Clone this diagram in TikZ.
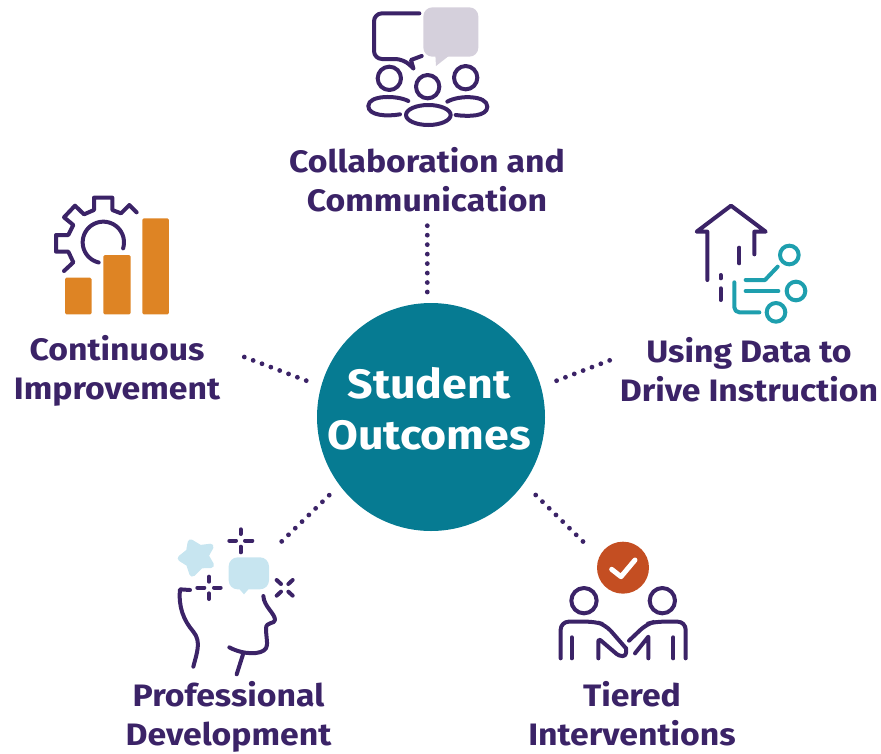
\documentclass[tikz,border=0pt]{standalone}
\usepackage{fontspec}
\setmainfont{Fira Sans}[FakeStretch=1.09]
\definecolor{ink}{HTML}{3B2367}
\definecolor{tealc}{HTML}{067B92}
\definecolor{teall}{HTML}{1E9FAE}
\definecolor{greyb}{HTML}{D5D0DC}
\definecolor{orangeb}{HTML}{DE8424}
\definecolor{blueb}{HTML}{C7E5F0}
\definecolor{redo}{HTML}{C44E22}
\tikzset{
  inkline/.style={draw=ink,line width=4pt,line cap=round,line join=round},
  tealline/.style={draw=teall,line width=4pt,line cap=round,line join=round},
  dotline/.style={draw=ink,line width=4.8pt,line cap=round,dash pattern=on 0pt off 9.47pt},
  label/.style={text=ink,align=center,inner sep=0pt,font=\fontsize{31}{39}\selectfont\bfseries},
  hub/.style={circle,fill=tealc,minimum size=228pt,inner sep=0pt},
  hubtext/.style={text=white,align=center,inner sep=0pt,font=\fontsize{41}{51}\selectfont\bfseries}
}
\begin{document}
\begin{tikzpicture}[x=1pt,y=-1pt]
\useasboundingbox (0,0) rectangle (881,753);
\node[hub] (hub) at (431,417) {};
\node[hubtext] (hubt) at (429,409) {Student\\Outcomes};
\node[label] (l1) at (427,179.5) {Collaboration and\\Communication};
\node[label] (l2) at (117,371) {Continuous\\Improvement};
\node[label] (l3) at (749,369.5) {Using Data to\\Drive Instruction};
\node[label] (l4) at (228.5,716.5) {Professional\\Development};
\node[label] (l5) at (632,714) {Tiered\\Interventions};
% connectors
\coordinate (t1) at (427.3,225.7); \coordinate (t2) at (427.3,292.2);
\coordinate (a1) at (244.3,357); \coordinate (a2) at (306.4,380.7);
\coordinate (b1) at (618.4,357); \coordinate (b2) at (556.6,380.7);
\coordinate (c1) at (281.7,541.4); \coordinate (c2) at (329.4,495);
\coordinate (d1) at (583.1,541.6); \coordinate (d2) at (535.7,495);
\draw[dotline] (t1) -- (t2);
\draw[dotline] (a1) -- (a2);
\draw[dotline] (b2) -- (b1);
\draw[dotline] (c1) -- (c2);
\draw[dotline] (d2) -- (d1);
% icon 1: collaboration
\begin{scope}[shift={(350,0)},scale=1/3]
\fill[greyb,rounded corners=9pt] (220,22) rectangle (385,170);
\fill[greyb] (300,165) -- (258,198) -- (256,165) -- cycle;
\draw[inkline,rounded corners=8pt] (208,40) -- (72,40) -- (72,177) -- (160,177) -- (190,205);
\draw[inkline] (190,205) -- (183,180) -- (215,168);
\draw[inkline] (118,235) circle[radius=35];
\draw[inkline] (233,260) circle[radius=35];
\draw[inkline] (347,233) circle[radius=35];
\draw[inkline] (235,345) ellipse[x radius=67,y radius=30];
\draw[inkline] (175,303) .. controls (140,285) and (55,285) .. (55,318) .. controls (55,347) and (110,350) .. (150,343);
\draw[inkline] (292,305) .. controls (325,285) and (412,285) .. (412,320) .. controls (412,350) and (355,350) .. (317,345);
\end{scope}
% icon 2: improvement
\begin{scope}[shift={(40,185)},scale=1/3]
\draw[inkline] (72,258) -- (100,232) -- (85,200) -- (48,200) -- (48,150) -- (85,150) -- (100,120) -- (72,97) -- (105,62) -- (132,88) -- (162,75) -- (162,38) -- (217,38) -- (217,75) -- (243,85) -- (268,60) -- (290,82);
\draw[inkline] plot[smooth,domain=17:-257,samples=40] ({190+62*cos(\x)},{172+62*sin(\x)});
\fill[orangeb,rounded corners=1.5pt] (75,278) rectangle (155,388);
\fill[orangeb,rounded corners=1.5pt] (190,210) rectangle (272,388);
\fill[orangeb,rounded corners=1.5pt] (307,100) rectangle (387,388);
\end{scope}
% icon 3: data
\begin{scope}[shift={(680,195)},scale=1/3]
\draw[inkline] (82,255) -- (82,110) -- (50,110) -- (153,32) -- (257,110) -- (223,110) -- (223,178);
\draw[inkline] (178,158) -- (178,205);
\draw[inkline] (122,240) -- (122,250);
\draw[inkline] (122,280) -- (122,315);
\draw[tealline] (328,180) circle[radius=28];
\draw[tealline] (348,288) circle[radius=28];
\draw[tealline] (288,352) circle[radius=28];
\draw[tealline] (197,255) -- (255,255) -- (293,215);
\draw[tealline] (197,288) -- (295,288);
\draw[tealline,rounded corners=5pt] (163,262) -- (163,352) -- (238,352);
\end{scope}
% icon 4: development
\begin{scope}[shift={(160,520)},scale=1/3]
\filldraw[blueb,line width=6pt,line join=round] (92,67) -- (120,84) -- (152,80) -- (137,107) -- (153,135) -- (122,136) -- (97,161) -- (87,131) -- (62,115) -- (87,95) -- cycle;
\fill[blueb,rounded corners=9pt] (206,112) rectangle (327,208);
\fill[blueb,line join=round] (232,200) -- (252,223) -- (272,200) -- cycle;
\draw[inkline] (242,28) -- (242,42) (242,80) -- (242,97) (208,62) -- (228,62) (255,62) -- (277,62);
\draw[inkline] (147,170) -- (147,185) (147,220) -- (147,237) (112,203) -- (133,203) (162,203) -- (182,203);
\draw[inkline] (350,180) -- (363,192) (398,180) -- (385,192) (350,227) -- (363,215) (398,227) -- (385,215);
\draw[inkline] (90,210) -- (60,208) .. controls (55,260) and (70,300) .. (100,335) .. controls (125,365) and (110,400) .. (100,440);
\draw[inkline] (310,228) .. controls (312,260) and (345,280) .. (345,300) .. controls (345,312) and (318,305) .. (318,325) .. controls (318,350) and (325,375) .. (318,385) .. controls (305,405) and (250,405) .. (208,382);
\draw[inkline] (250,400) -- (230,463);
\end{scope}
% icon 5: interventions
\begin{scope}[shift={(545,530)},scale=1/3]
\fill[redo] (234,113) circle[radius=78];
\draw[white,line width=5pt,line cap=round,line join=round] (200,118) -- (228,140) -- (270,90);
\draw[inkline] (117,212) circle[radius=38];
\draw[inkline] (352,212) circle[radius=38];
\draw[inkline,rounded corners=8pt] (47,385) -- (47,275) -- (150,275) -- (182,285) -- (243,355);
\draw[inkline,rounded corners=3pt] (243,355) -- (243,378) -- (222,378) -- (160,325) -- (160,385);
\draw[inkline] (80,322) -- (80,385);
\draw[inkline,rounded corners=8pt] (252,332) -- (305,282) -- (330,275) -- (422,275) -- (422,385);
\draw[inkline] (385,322) -- (385,385);
\draw[inkline] (270,370) -- (310,320) -- (310,385);
\end{scope}
\end{tikzpicture}
\end{document}
